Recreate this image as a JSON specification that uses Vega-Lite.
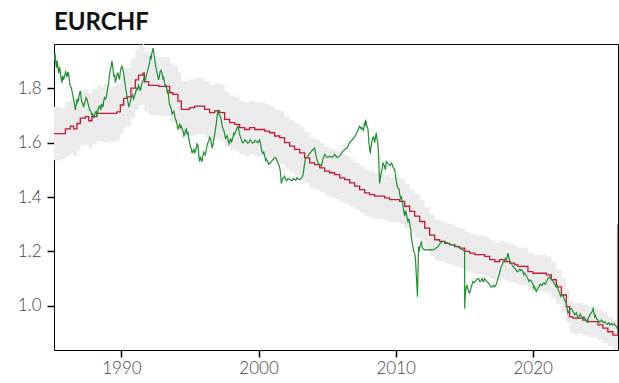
{
  "$schema": "https://vega.github.io/schema/vega-lite/v6.json",
  "width": 564,
  "height": 306,
  "autosize": {"type": "none"},
  "padding": {"left": 54, "top": 44, "right": 1, "bottom": 33},
  "title": {"text": "EURCHF", "anchor": "start", "frame": "group", "font": "Lato", "fontSize": 24, "fontWeight": "bold", "color": "#111111", "offset": 9},
  "config": {
    "view": {"stroke": "#000000", "strokeWidth": 1},
    "axis": {"labelFont": "Lato", "labelFontSize": 17, "labelFontWeight": 300, "labelColor": "#444444", "tickColor": "#000000", "tickSize": 7, "tickWidth": 1.5, "domain": false, "grid": false, "title": null}
  },
  "datasets": {
    "ppp": [
      {"t": 1985.08, "p": 1.633, "lo": 1.535, "hi": 1.731},
      {"t": 1985.64, "p": 1.633, "lo": 1.54, "hi": 1.725},
      {"t": 1985.91, "p": 1.65, "lo": 1.551, "hi": 1.749},
      {"t": 1986.27, "p": 1.66, "lo": 1.56, "hi": 1.76},
      {"t": 1986.51, "p": 1.65, "lo": 1.551, "hi": 1.749},
      {"t": 1986.75, "p": 1.67, "lo": 1.57, "hi": 1.77},
      {"t": 1987.0, "p": 1.69, "lo": 1.589, "hi": 1.791},
      {"t": 1987.37, "p": 1.695, "lo": 1.593, "hi": 1.797},
      {"t": 1987.61, "p": 1.68, "lo": 1.579, "hi": 1.781},
      {"t": 1987.85, "p": 1.695, "lo": 1.593, "hi": 1.797},
      {"t": 1988.21, "p": 1.707, "lo": 1.605, "hi": 1.809},
      {"t": 1988.7, "p": 1.707, "lo": 1.6, "hi": 1.815},
      {"t": 1989.19, "p": 1.707, "lo": 1.605, "hi": 1.809},
      {"t": 1989.67, "p": 1.713, "lo": 1.61, "hi": 1.816},
      {"t": 1989.92, "p": 1.738, "lo": 1.634, "hi": 1.842},
      {"t": 1990.16, "p": 1.762, "lo": 1.656, "hi": 1.868},
      {"t": 1990.4, "p": 1.768, "lo": 1.662, "hi": 1.874},
      {"t": 1990.69, "p": 1.8, "lo": 1.692, "hi": 1.908},
      {"t": 1991.01, "p": 1.83, "lo": 1.72, "hi": 1.94},
      {"t": 1991.25, "p": 1.848, "lo": 1.737, "hi": 1.959},
      {"t": 1991.57, "p": 1.855, "lo": 1.744, "hi": 1.962},
      {"t": 1991.67, "p": 1.824, "lo": 1.715, "hi": 1.933},
      {"t": 1991.98, "p": 1.81, "lo": 1.701, "hi": 1.919},
      {"t": 1992.35, "p": 1.81, "lo": 1.701, "hi": 1.919},
      {"t": 1992.71, "p": 1.806, "lo": 1.698, "hi": 1.914},
      {"t": 1993.08, "p": 1.806, "lo": 1.698, "hi": 1.914},
      {"t": 1993.52, "p": 1.783, "lo": 1.676, "hi": 1.89},
      {"t": 1993.76, "p": 1.777, "lo": 1.67, "hi": 1.884},
      {"t": 1994.12, "p": 1.752, "lo": 1.647, "hi": 1.857},
      {"t": 1994.37, "p": 1.722, "lo": 1.619, "hi": 1.825},
      {"t": 1994.61, "p": 1.722, "lo": 1.619, "hi": 1.825},
      {"t": 1994.97, "p": 1.728, "lo": 1.624, "hi": 1.832},
      {"t": 1995.34, "p": 1.734, "lo": 1.63, "hi": 1.838},
      {"t": 1995.7, "p": 1.734, "lo": 1.63, "hi": 1.838},
      {"t": 1996.07, "p": 1.722, "lo": 1.619, "hi": 1.825},
      {"t": 1996.43, "p": 1.71, "lo": 1.607, "hi": 1.813},
      {"t": 1996.8, "p": 1.716, "lo": 1.613, "hi": 1.819},
      {"t": 1997.16, "p": 1.71, "lo": 1.607, "hi": 1.813},
      {"t": 1997.53, "p": 1.685, "lo": 1.584, "hi": 1.786},
      {"t": 1997.89, "p": 1.673, "lo": 1.573, "hi": 1.773},
      {"t": 1998.26, "p": 1.667, "lo": 1.567, "hi": 1.767},
      {"t": 1998.62, "p": 1.655, "lo": 1.556, "hi": 1.754},
      {"t": 1998.99, "p": 1.648, "lo": 1.549, "hi": 1.747},
      {"t": 1999.35, "p": 1.655, "lo": 1.556, "hi": 1.754},
      {"t": 1999.72, "p": 1.648, "lo": 1.549, "hi": 1.747},
      {"t": 2000.08, "p": 1.648, "lo": 1.549, "hi": 1.747},
      {"t": 2000.45, "p": 1.642, "lo": 1.543, "hi": 1.741},
      {"t": 2000.81, "p": 1.636, "lo": 1.538, "hi": 1.734},
      {"t": 2001.17, "p": 1.624, "lo": 1.527, "hi": 1.721},
      {"t": 2001.54, "p": 1.618, "lo": 1.521, "hi": 1.715},
      {"t": 2001.9, "p": 1.6, "lo": 1.504, "hi": 1.696},
      {"t": 2002.27, "p": 1.587, "lo": 1.492, "hi": 1.682},
      {"t": 2002.63, "p": 1.575, "lo": 1.48, "hi": 1.67},
      {"t": 2003.0, "p": 1.562, "lo": 1.468, "hi": 1.656},
      {"t": 2003.36, "p": 1.544, "lo": 1.451, "hi": 1.637},
      {"t": 2003.73, "p": 1.525, "lo": 1.433, "hi": 1.617},
      {"t": 2004.09, "p": 1.519, "lo": 1.428, "hi": 1.61},
      {"t": 2004.46, "p": 1.507, "lo": 1.417, "hi": 1.597},
      {"t": 2004.82, "p": 1.495, "lo": 1.405, "hi": 1.585},
      {"t": 2005.19, "p": 1.489, "lo": 1.4, "hi": 1.578},
      {"t": 2005.55, "p": 1.482, "lo": 1.393, "hi": 1.571},
      {"t": 2005.92, "p": 1.47, "lo": 1.382, "hi": 1.558},
      {"t": 2006.28, "p": 1.464, "lo": 1.376, "hi": 1.552},
      {"t": 2006.65, "p": 1.452, "lo": 1.365, "hi": 1.539},
      {"t": 2007.01, "p": 1.44, "lo": 1.354, "hi": 1.526},
      {"t": 2007.37, "p": 1.427, "lo": 1.341, "hi": 1.513},
      {"t": 2007.74, "p": 1.415, "lo": 1.33, "hi": 1.5},
      {"t": 2008.1, "p": 1.409, "lo": 1.324, "hi": 1.494},
      {"t": 2008.47, "p": 1.403, "lo": 1.319, "hi": 1.487},
      {"t": 2008.83, "p": 1.403, "lo": 1.319, "hi": 1.487},
      {"t": 2009.2, "p": 1.397, "lo": 1.313, "hi": 1.481},
      {"t": 2009.56, "p": 1.39, "lo": 1.307, "hi": 1.473},
      {"t": 2009.93, "p": 1.39, "lo": 1.307, "hi": 1.473},
      {"t": 2010.29, "p": 1.384, "lo": 1.301, "hi": 1.467},
      {"t": 2010.66, "p": 1.366, "lo": 1.284, "hi": 1.448},
      {"t": 2011.02, "p": 1.347, "lo": 1.266, "hi": 1.428},
      {"t": 2011.39, "p": 1.33, "lo": 1.25, "hi": 1.41},
      {"t": 2011.75, "p": 1.31, "lo": 1.231, "hi": 1.389},
      {"t": 2012.12, "p": 1.286, "lo": 1.209, "hi": 1.363},
      {"t": 2012.48, "p": 1.26, "lo": 1.184, "hi": 1.336},
      {"t": 2012.85, "p": 1.243, "lo": 1.168, "hi": 1.318},
      {"t": 2013.21, "p": 1.237, "lo": 1.163, "hi": 1.311},
      {"t": 2013.58, "p": 1.23, "lo": 1.156, "hi": 1.304},
      {"t": 2013.94, "p": 1.225, "lo": 1.151, "hi": 1.299},
      {"t": 2014.31, "p": 1.218, "lo": 1.145, "hi": 1.291},
      {"t": 2014.67, "p": 1.212, "lo": 1.139, "hi": 1.285},
      {"t": 2015.04, "p": 1.2, "lo": 1.128, "hi": 1.272},
      {"t": 2015.4, "p": 1.194, "lo": 1.122, "hi": 1.266},
      {"t": 2015.77, "p": 1.188, "lo": 1.117, "hi": 1.259},
      {"t": 2016.13, "p": 1.188, "lo": 1.117, "hi": 1.259},
      {"t": 2016.5, "p": 1.182, "lo": 1.111, "hi": 1.253},
      {"t": 2016.86, "p": 1.17, "lo": 1.1, "hi": 1.24},
      {"t": 2017.23, "p": 1.163, "lo": 1.093, "hi": 1.233},
      {"t": 2017.59, "p": 1.17, "lo": 1.1, "hi": 1.24},
      {"t": 2017.96, "p": 1.163, "lo": 1.093, "hi": 1.233},
      {"t": 2018.32, "p": 1.157, "lo": 1.088, "hi": 1.226},
      {"t": 2018.69, "p": 1.151, "lo": 1.082, "hi": 1.22},
      {"t": 2018.92, "p": 1.145, "lo": 1.076, "hi": 1.214},
      {"t": 2019.41, "p": 1.145, "lo": 1.076, "hi": 1.214},
      {"t": 2019.65, "p": 1.126, "lo": 1.058, "hi": 1.194},
      {"t": 2020.01, "p": 1.12, "lo": 1.053, "hi": 1.187},
      {"t": 2020.38, "p": 1.12, "lo": 1.053, "hi": 1.187},
      {"t": 2020.74, "p": 1.12, "lo": 1.053, "hi": 1.187},
      {"t": 2020.99, "p": 1.114, "lo": 1.047, "hi": 1.181},
      {"t": 2021.36, "p": 1.096, "lo": 1.03, "hi": 1.162},
      {"t": 2021.72, "p": 1.07, "lo": 1.006, "hi": 1.134},
      {"t": 2022.09, "p": 1.04, "lo": 0.978, "hi": 1.102},
      {"t": 2022.45, "p": 0.997, "lo": 0.937, "hi": 1.057},
      {"t": 2022.69, "p": 0.96, "lo": 0.902, "hi": 1.018},
      {"t": 2022.93, "p": 0.955, "lo": 0.898, "hi": 1.012},
      {"t": 2023.3, "p": 0.955, "lo": 0.898, "hi": 1.012},
      {"t": 2023.66, "p": 0.948, "lo": 0.891, "hi": 1.005},
      {"t": 2024.03, "p": 0.942, "lo": 0.885, "hi": 0.999},
      {"t": 2024.39, "p": 0.942, "lo": 0.885, "hi": 0.999},
      {"t": 2024.76, "p": 0.93, "lo": 0.874, "hi": 0.986},
      {"t": 2025.12, "p": 0.918, "lo": 0.863, "hi": 0.973},
      {"t": 2025.48, "p": 0.905, "lo": 0.851, "hi": 0.959},
      {"t": 2025.85, "p": 0.893, "lo": 0.839, "hi": 0.947},
      {"t": 2026.17, "p": 0.893, "lo": 0.839, "hi": 0.947},
      {"t": 2026.22, "p": 1.3, "lo": 0.839, "hi": 0.947}
    ],
    "spot": [
      {"t": 1985.08, "v": 1.92}, {"t": 1985.15, "v": 1.93}, {"t": 1985.22, "v": 1.89}, {"t": 1985.3, "v": 1.9},
      {"t": 1985.42, "v": 1.855}, {"t": 1985.52, "v": 1.87}, {"t": 1985.66, "v": 1.82}, {"t": 1985.72, "v": 1.845},
      {"t": 1985.78, "v": 1.83}, {"t": 1985.93, "v": 1.86}, {"t": 1986.03, "v": 1.84}, {"t": 1986.15, "v": 1.85},
      {"t": 1986.25, "v": 1.81}, {"t": 1986.39, "v": 1.79}, {"t": 1986.5, "v": 1.76}, {"t": 1986.64, "v": 1.72},
      {"t": 1986.72, "v": 1.74}, {"t": 1986.81, "v": 1.75}, {"t": 1986.9, "v": 1.77}, {"t": 1987.0, "v": 1.79},
      {"t": 1987.1, "v": 1.75}, {"t": 1987.24, "v": 1.73}, {"t": 1987.35, "v": 1.75}, {"t": 1987.48, "v": 1.76},
      {"t": 1987.58, "v": 1.74}, {"t": 1987.68, "v": 1.72}, {"t": 1987.85, "v": 1.7}, {"t": 1987.97, "v": 1.69},
      {"t": 1988.1, "v": 1.71}, {"t": 1988.22, "v": 1.7}, {"t": 1988.34, "v": 1.73}, {"t": 1988.5, "v": 1.72},
      {"t": 1988.6, "v": 1.74}, {"t": 1988.7, "v": 1.75}, {"t": 1988.82, "v": 1.76}, {"t": 1988.94, "v": 1.78},
      {"t": 1989.07, "v": 1.82}, {"t": 1989.19, "v": 1.867}, {"t": 1989.31, "v": 1.9}, {"t": 1989.4, "v": 1.86},
      {"t": 1989.56, "v": 1.82}, {"t": 1989.68, "v": 1.85}, {"t": 1989.8, "v": 1.84}, {"t": 1989.92, "v": 1.86},
      {"t": 1990.04, "v": 1.88}, {"t": 1990.16, "v": 1.855}, {"t": 1990.28, "v": 1.81}, {"t": 1990.4, "v": 1.77},
      {"t": 1990.53, "v": 1.73}, {"t": 1990.65, "v": 1.75}, {"t": 1990.77, "v": 1.77}, {"t": 1990.88, "v": 1.76},
      {"t": 1991.01, "v": 1.78}, {"t": 1991.12, "v": 1.8}, {"t": 1991.25, "v": 1.81}, {"t": 1991.38, "v": 1.79},
      {"t": 1991.5, "v": 1.82}, {"t": 1991.65, "v": 1.84}, {"t": 1991.75, "v": 1.83}, {"t": 1991.86, "v": 1.855},
      {"t": 1992.0, "v": 1.88}, {"t": 1992.11, "v": 1.916}, {"t": 1992.22, "v": 1.93}, {"t": 1992.3, "v": 1.947},
      {"t": 1992.38, "v": 1.92}, {"t": 1992.47, "v": 1.89}, {"t": 1992.58, "v": 1.86}, {"t": 1992.71, "v": 1.83},
      {"t": 1992.82, "v": 1.86}, {"t": 1992.95, "v": 1.855}, {"t": 1993.08, "v": 1.84}, {"t": 1993.2, "v": 1.806},
      {"t": 1993.3, "v": 1.8}, {"t": 1993.39, "v": 1.795}, {"t": 1993.5, "v": 1.74}, {"t": 1993.64, "v": 1.72},
      {"t": 1993.76, "v": 1.71}, {"t": 1993.88, "v": 1.7}, {"t": 1994.0, "v": 1.68}, {"t": 1994.12, "v": 1.65},
      {"t": 1994.25, "v": 1.67}, {"t": 1994.37, "v": 1.66}, {"t": 1994.5, "v": 1.64}, {"t": 1994.61, "v": 1.63},
      {"t": 1994.73, "v": 1.65}, {"t": 1994.85, "v": 1.64}, {"t": 1994.97, "v": 1.6}, {"t": 1995.1, "v": 1.575},
      {"t": 1995.22, "v": 1.57}, {"t": 1995.34, "v": 1.56}, {"t": 1995.46, "v": 1.58}, {"t": 1995.58, "v": 1.59},
      {"t": 1995.65, "v": 1.55}, {"t": 1995.7, "v": 1.53}, {"t": 1995.82, "v": 1.54}, {"t": 1995.94, "v": 1.55},
      {"t": 1996.06, "v": 1.56}, {"t": 1996.19, "v": 1.575}, {"t": 1996.31, "v": 1.6}, {"t": 1996.43, "v": 1.62},
      {"t": 1996.55, "v": 1.6}, {"t": 1996.67, "v": 1.59}, {"t": 1996.8, "v": 1.63}, {"t": 1996.92, "v": 1.67},
      {"t": 1997.04, "v": 1.72}, {"t": 1997.16, "v": 1.7}, {"t": 1997.29, "v": 1.68}, {"t": 1997.41, "v": 1.65},
      {"t": 1997.53, "v": 1.63}, {"t": 1997.65, "v": 1.62}, {"t": 1997.77, "v": 1.61}, {"t": 1997.9, "v": 1.605},
      {"t": 1998.02, "v": 1.6}, {"t": 1998.14, "v": 1.62}, {"t": 1998.26, "v": 1.63}, {"t": 1998.38, "v": 1.645},
      {"t": 1998.5, "v": 1.66}, {"t": 1998.62, "v": 1.63}, {"t": 1998.75, "v": 1.61}, {"t": 1998.9, "v": 1.6},
      {"t": 1999.11, "v": 1.605}, {"t": 1999.3, "v": 1.6}, {"t": 1999.47, "v": 1.605}, {"t": 1999.65, "v": 1.6},
      {"t": 1999.84, "v": 1.605}, {"t": 1999.95, "v": 1.6}, {"t": 2000.08, "v": 1.61}, {"t": 2000.2, "v": 1.58},
      {"t": 2000.32, "v": 1.56}, {"t": 2000.45, "v": 1.55}, {"t": 2000.57, "v": 1.54}, {"t": 2000.75, "v": 1.52},
      {"t": 2000.93, "v": 1.53}, {"t": 2001.1, "v": 1.54}, {"t": 2001.3, "v": 1.54}, {"t": 2001.45, "v": 1.52},
      {"t": 2001.54, "v": 1.51}, {"t": 2001.66, "v": 1.45}, {"t": 2001.78, "v": 1.47}, {"t": 2001.9, "v": 1.476},
      {"t": 2002.05, "v": 1.46}, {"t": 2002.27, "v": 1.464}, {"t": 2002.45, "v": 1.46}, {"t": 2002.63, "v": 1.464},
      {"t": 2002.8, "v": 1.47}, {"t": 2003.0, "v": 1.464}, {"t": 2003.15, "v": 1.47}, {"t": 2003.24, "v": 1.48},
      {"t": 2003.35, "v": 1.52}, {"t": 2003.44, "v": 1.544}, {"t": 2003.6, "v": 1.55}, {"t": 2003.73, "v": 1.56},
      {"t": 2003.9, "v": 1.57}, {"t": 2004.09, "v": 1.58}, {"t": 2004.2, "v": 1.55}, {"t": 2004.33, "v": 1.525},
      {"t": 2004.45, "v": 1.52}, {"t": 2004.58, "v": 1.513}, {"t": 2004.7, "v": 1.54}, {"t": 2004.82, "v": 1.556},
      {"t": 2005.0, "v": 1.545}, {"t": 2005.19, "v": 1.55}, {"t": 2005.37, "v": 1.545}, {"t": 2005.55, "v": 1.556},
      {"t": 2005.74, "v": 1.545}, {"t": 2005.92, "v": 1.55}, {"t": 2006.1, "v": 1.565}, {"t": 2006.28, "v": 1.575},
      {"t": 2006.45, "v": 1.58}, {"t": 2006.65, "v": 1.6}, {"t": 2006.83, "v": 1.61}, {"t": 2007.01, "v": 1.62},
      {"t": 2007.2, "v": 1.64}, {"t": 2007.37, "v": 1.66}, {"t": 2007.5, "v": 1.65}, {"t": 2007.61, "v": 1.65},
      {"t": 2007.72, "v": 1.67}, {"t": 2007.81, "v": 1.68}, {"t": 2007.9, "v": 1.66}, {"t": 2007.98, "v": 1.65},
      {"t": 2008.05, "v": 1.6}, {"t": 2008.15, "v": 1.56}, {"t": 2008.25, "v": 1.6}, {"t": 2008.34, "v": 1.62},
      {"t": 2008.47, "v": 1.6}, {"t": 2008.59, "v": 1.636}, {"t": 2008.7, "v": 1.6}, {"t": 2008.83, "v": 1.45},
      {"t": 2008.95, "v": 1.49}, {"t": 2009.07, "v": 1.525}, {"t": 2009.2, "v": 1.51}, {"t": 2009.32, "v": 1.53},
      {"t": 2009.5, "v": 1.52}, {"t": 2009.69, "v": 1.525}, {"t": 2009.8, "v": 1.51}, {"t": 2009.93, "v": 1.5},
      {"t": 2010.05, "v": 1.46}, {"t": 2010.17, "v": 1.433}, {"t": 2010.3, "v": 1.41}, {"t": 2010.42, "v": 1.4},
      {"t": 2010.54, "v": 1.366}, {"t": 2010.66, "v": 1.33}, {"t": 2010.78, "v": 1.34}, {"t": 2010.9, "v": 1.31},
      {"t": 2011.02, "v": 1.305}, {"t": 2011.1, "v": 1.28}, {"t": 2011.15, "v": 1.25}, {"t": 2011.25, "v": 1.22},
      {"t": 2011.39, "v": 1.194}, {"t": 2011.5, "v": 1.12}, {"t": 2011.59, "v": 1.034}, {"t": 2011.64, "v": 1.15},
      {"t": 2011.68, "v": 1.218}, {"t": 2011.78, "v": 1.22}, {"t": 2011.88, "v": 1.237}, {"t": 2012.0, "v": 1.21},
      {"t": 2012.12, "v": 1.206}, {"t": 2012.36, "v": 1.206}, {"t": 2012.55, "v": 1.207}, {"t": 2012.72, "v": 1.206},
      {"t": 2012.9, "v": 1.21}, {"t": 2013.09, "v": 1.218}, {"t": 2013.25, "v": 1.23}, {"t": 2013.45, "v": 1.237},
      {"t": 2013.6, "v": 1.235}, {"t": 2013.81, "v": 1.23}, {"t": 2014.0, "v": 1.225}, {"t": 2014.18, "v": 1.225},
      {"t": 2014.35, "v": 1.22}, {"t": 2014.54, "v": 1.218}, {"t": 2014.72, "v": 1.21}, {"t": 2014.9, "v": 1.206},
      {"t": 2015.03, "v": 1.2}, {"t": 2015.04, "v": 0.99}, {"t": 2015.1, "v": 1.05}, {"t": 2015.15, "v": 1.07},
      {"t": 2015.28, "v": 1.06}, {"t": 2015.4, "v": 1.047}, {"t": 2015.52, "v": 1.07}, {"t": 2015.64, "v": 1.09},
      {"t": 2015.8, "v": 1.09}, {"t": 2016.0, "v": 1.1}, {"t": 2016.12, "v": 1.09}, {"t": 2016.25, "v": 1.096},
      {"t": 2016.37, "v": 1.09}, {"t": 2016.49, "v": 1.1}, {"t": 2016.65, "v": 1.09}, {"t": 2016.86, "v": 1.077},
      {"t": 2017.05, "v": 1.07}, {"t": 2017.23, "v": 1.07}, {"t": 2017.35, "v": 1.08}, {"t": 2017.46, "v": 1.1},
      {"t": 2017.58, "v": 1.12}, {"t": 2017.71, "v": 1.145}, {"t": 2017.83, "v": 1.16}, {"t": 2017.95, "v": 1.17},
      {"t": 2018.08, "v": 1.17}, {"t": 2018.19, "v": 1.194}, {"t": 2018.3, "v": 1.17}, {"t": 2018.44, "v": 1.157},
      {"t": 2018.56, "v": 1.145}, {"t": 2018.68, "v": 1.139}, {"t": 2018.8, "v": 1.13}, {"t": 2018.92, "v": 1.126},
      {"t": 2019.05, "v": 1.135}, {"t": 2019.17, "v": 1.133}, {"t": 2019.29, "v": 1.125}, {"t": 2019.41, "v": 1.12},
      {"t": 2019.53, "v": 1.11}, {"t": 2019.65, "v": 1.1}, {"t": 2019.78, "v": 1.095}, {"t": 2019.9, "v": 1.09},
      {"t": 2020.02, "v": 1.08}, {"t": 2020.14, "v": 1.07}, {"t": 2020.26, "v": 1.053}, {"t": 2020.38, "v": 1.065},
      {"t": 2020.51, "v": 1.077}, {"t": 2020.63, "v": 1.075}, {"t": 2020.75, "v": 1.083}, {"t": 2020.88, "v": 1.08},
      {"t": 2021.0, "v": 1.09}, {"t": 2021.12, "v": 1.1}, {"t": 2021.24, "v": 1.108}, {"t": 2021.36, "v": 1.1},
      {"t": 2021.48, "v": 1.09}, {"t": 2021.6, "v": 1.08}, {"t": 2021.72, "v": 1.07}, {"t": 2021.85, "v": 1.06},
      {"t": 2021.97, "v": 1.047}, {"t": 2022.09, "v": 1.04}, {"t": 2022.21, "v": 1.034}, {"t": 2022.33, "v": 1.02},
      {"t": 2022.46, "v": 1.01}, {"t": 2022.57, "v": 0.973}, {"t": 2022.7, "v": 0.985}, {"t": 2022.82, "v": 0.99},
      {"t": 2022.94, "v": 0.98}, {"t": 2023.06, "v": 0.967}, {"t": 2023.18, "v": 0.975}, {"t": 2023.3, "v": 0.955},
      {"t": 2023.42, "v": 0.965}, {"t": 2023.55, "v": 0.96}, {"t": 2023.67, "v": 0.955}, {"t": 2023.79, "v": 0.955},
      {"t": 2023.97, "v": 0.94}, {"t": 2024.16, "v": 0.967}, {"t": 2024.28, "v": 0.975}, {"t": 2024.4, "v": 0.99},
      {"t": 2024.46, "v": 0.975}, {"t": 2024.52, "v": 0.96}, {"t": 2024.64, "v": 0.955}, {"t": 2024.76, "v": 0.948},
      {"t": 2024.88, "v": 0.94}, {"t": 2025.01, "v": 0.948}, {"t": 2025.13, "v": 0.94}, {"t": 2025.25, "v": 0.942},
      {"t": 2025.37, "v": 0.935}, {"t": 2025.49, "v": 0.936}, {"t": 2025.61, "v": 0.93}, {"t": 2025.74, "v": 0.936},
      {"t": 2025.86, "v": 0.932}, {"t": 2025.98, "v": 0.93}, {"t": 2026.1, "v": 0.925}, {"t": 2026.2, "v": 0.912},
      {"t": 1985.11, "v": 1.9}, {"t": 1985.18, "v": 1.915}, {"t": 1985.26, "v": 1.875}, {"t": 1985.36, "v": 1.88},
      {"t": 1985.47, "v": 1.875}, {"t": 1985.58, "v": 1.84}, {"t": 1985.69, "v": 1.835}, {"t": 1985.85, "v": 1.845},
      {"t": 1985.98, "v": 1.85}, {"t": 1986.09, "v": 1.86}, {"t": 1986.2, "v": 1.83}, {"t": 1986.32, "v": 1.805},
      {"t": 1986.45, "v": 1.775}, {"t": 1986.57, "v": 1.745}, {"t": 1986.68, "v": 1.735}, {"t": 1986.76, "v": 1.76},
      {"t": 1986.86, "v": 1.755}, {"t": 1986.95, "v": 1.78}, {"t": 1987.05, "v": 1.77}, {"t": 1987.17, "v": 1.745},
      {"t": 1987.3, "v": 1.745}, {"t": 1987.42, "v": 1.765}, {"t": 1987.53, "v": 1.75}, {"t": 1987.63, "v": 1.73},
      {"t": 1987.77, "v": 1.715}, {"t": 1987.91, "v": 1.705}, {"t": 1988.03, "v": 1.7}, {"t": 1988.16, "v": 1.715},
      {"t": 1988.28, "v": 1.715}, {"t": 1988.42, "v": 1.735}, {"t": 1988.55, "v": 1.74}, {"t": 1988.65, "v": 1.73},
      {"t": 1988.76, "v": 1.765}, {"t": 1988.88, "v": 1.765}, {"t": 1989.0, "v": 1.8}, {"t": 1989.13, "v": 1.85},
      {"t": 1989.25, "v": 1.88}, {"t": 1989.35, "v": 1.885}, {"t": 1989.46, "v": 1.84}, {"t": 1989.5, "v": 1.85},
      {"t": 1989.62, "v": 1.835}, {"t": 1989.74, "v": 1.855}, {"t": 1989.86, "v": 1.835}, {"t": 1989.98, "v": 1.875},
      {"t": 1990.1, "v": 1.87}, {"t": 1990.22, "v": 1.83}, {"t": 1990.34, "v": 1.79}, {"t": 1990.47, "v": 1.75},
      {"t": 1990.59, "v": 1.74}, {"t": 1990.71, "v": 1.765}, {"t": 1990.82, "v": 1.775}, {"t": 1990.95, "v": 1.77},
      {"t": 1991.06, "v": 1.79}, {"t": 1991.18, "v": 1.795}, {"t": 1991.32, "v": 1.8}, {"t": 1991.44, "v": 1.805},
      {"t": 1991.57, "v": 1.825}, {"t": 1991.7, "v": 1.825}, {"t": 1991.8, "v": 1.845}, {"t": 1991.93, "v": 1.87},
      {"t": 1992.06, "v": 1.895}, {"t": 1992.17, "v": 1.91}, {"t": 1992.26, "v": 1.935}, {"t": 1992.34, "v": 1.935},
      {"t": 1992.43, "v": 1.905}, {"t": 1992.52, "v": 1.875}, {"t": 1992.65, "v": 1.845}, {"t": 1992.77, "v": 1.845},
      {"t": 1992.88, "v": 1.865}, {"t": 1993.02, "v": 1.835}, {"t": 1993.14, "v": 1.82}, {"t": 1993.25, "v": 1.81},
      {"t": 1993.35, "v": 1.78}, {"t": 1993.45, "v": 1.765}, {"t": 1993.57, "v": 1.735}, {"t": 1993.7, "v": 1.705},
      {"t": 1993.82, "v": 1.715}, {"t": 1993.94, "v": 1.685}, {"t": 1994.06, "v": 1.665}, {"t": 1994.18, "v": 1.655},
      {"t": 1994.31, "v": 1.655}, {"t": 1994.43, "v": 1.65}, {"t": 1994.56, "v": 1.625}, {"t": 1994.67, "v": 1.645},
      {"t": 1994.79, "v": 1.63}, {"t": 1994.91, "v": 1.615}, {"t": 1995.04, "v": 1.585}, {"t": 1995.16, "v": 1.56},
      {"t": 1995.28, "v": 1.575}, {"t": 1995.4, "v": 1.57}, {"t": 1995.52, "v": 1.595}, {"t": 1995.76, "v": 1.545},
      {"t": 1995.88, "v": 1.53}, {"t": 1996.0, "v": 1.565}, {"t": 1996.12, "v": 1.555}, {"t": 1996.25, "v": 1.59},
      {"t": 1996.37, "v": 1.605}, {"t": 1996.49, "v": 1.615}, {"t": 1996.61, "v": 1.58}, {"t": 1996.73, "v": 1.61},
      {"t": 1996.86, "v": 1.65}, {"t": 1996.98, "v": 1.7}, {"t": 1997.1, "v": 1.705}, {"t": 1997.22, "v": 1.695},
      {"t": 1997.35, "v": 1.66}, {"t": 1997.47, "v": 1.645}, {"t": 1997.59, "v": 1.615}, {"t": 1997.71, "v": 1.625},
      {"t": 1997.84, "v": 1.595}, {"t": 1997.96, "v": 1.615}, {"t": 1998.08, "v": 1.61}, {"t": 1998.2, "v": 1.635},
      {"t": 1998.32, "v": 1.64}, {"t": 1998.44, "v": 1.655}, {"t": 1998.56, "v": 1.645}, {"t": 1998.69, "v": 1.62},
      {"t": 1998.82, "v": 1.6}, {"t": 1999.0, "v": 1.61}, {"t": 1999.2, "v": 1.598}, {"t": 1999.38, "v": 1.61},
      {"t": 1999.56, "v": 1.598}, {"t": 1999.75, "v": 1.608},
      {"t": 2000.14, "v": 1.595}, {"t": 2000.26, "v": 1.565}, {"t": 2000.38, "v": 1.565}, {"t": 2000.51, "v": 1.535},
      {"t": 2000.66, "v": 1.53}, {"t": 2000.84, "v": 1.525}, {"t": 2001.02, "v": 1.535}, {"t": 2001.2, "v": 1.545},
      {"t": 2001.38, "v": 1.53}, {"t": 2001.6, "v": 1.49}, {"t": 2001.72, "v": 1.46}, {"t": 2001.84, "v": 1.47},
      {"t": 2001.97, "v": 1.465}, {"t": 2002.15, "v": 1.468}, {"t": 2002.36, "v": 1.462}, {"t": 2002.54, "v": 1.468},
      {"t": 2002.72, "v": 1.462}, {"t": 2002.9, "v": 1.466},
      {"t": 2007.55, "v": 1.655}, {"t": 2007.66, "v": 1.645}, {"t": 2007.77, "v": 1.665}, {"t": 2007.86, "v": 1.675},
      {"t": 2007.94, "v": 1.655}, {"t": 2008.1, "v": 1.58}, {"t": 2008.2, "v": 1.58}, {"t": 2008.3, "v": 1.61},
      {"t": 2008.4, "v": 1.62}, {"t": 2008.53, "v": 1.62}, {"t": 2008.65, "v": 1.61}, {"t": 2008.76, "v": 1.55},
      {"t": 2008.89, "v": 1.47}, {"t": 2009.01, "v": 1.5}, {"t": 2009.13, "v": 1.52}, {"t": 2009.26, "v": 1.5},
      {"t": 2009.4, "v": 1.525}, {"t": 2009.6, "v": 1.515}, {"t": 2009.75, "v": 1.52}, {"t": 2009.87, "v": 1.505},
      {"t": 2009.99, "v": 1.48}, {"t": 2010.11, "v": 1.44}, {"t": 2010.24, "v": 1.43}, {"t": 2010.36, "v": 1.395},
      {"t": 2010.48, "v": 1.385}, {"t": 2010.6, "v": 1.345}, {"t": 2010.72, "v": 1.35}, {"t": 2010.84, "v": 1.32},
      {"t": 2010.96, "v": 1.32}, {"t": 2011.06, "v": 1.29}, {"t": 2011.2, "v": 1.235}, {"t": 2011.32, "v": 1.2},
      {"t": 2011.45, "v": 1.17}, {"t": 2011.55, "v": 1.08}, {"t": 2011.72, "v": 1.2}, {"t": 2011.83, "v": 1.225},
      {"t": 2011.94, "v": 1.215},
      {"t": 2015.07, "v": 1.03}, {"t": 2015.2, "v": 1.075}, {"t": 2015.34, "v": 1.05}, {"t": 2015.46, "v": 1.06},
      {"t": 2015.58, "v": 1.08}, {"t": 2015.72, "v": 1.085}, {"t": 2015.9, "v": 1.095}, {"t": 2016.06, "v": 1.1},
      {"t": 2016.19, "v": 1.09}, {"t": 2016.31, "v": 1.1}, {"t": 2016.43, "v": 1.09}, {"t": 2016.57, "v": 1.095},
      {"t": 2016.75, "v": 1.085}, {"t": 2016.95, "v": 1.07}, {"t": 2017.14, "v": 1.075}, {"t": 2017.29, "v": 1.075},
      {"t": 2017.41, "v": 1.09}, {"t": 2017.52, "v": 1.11}, {"t": 2017.65, "v": 1.135}, {"t": 2017.77, "v": 1.15},
      {"t": 2017.89, "v": 1.165}, {"t": 2018.02, "v": 1.175}, {"t": 2018.14, "v": 1.18}, {"t": 2018.25, "v": 1.18},
      {"t": 2018.37, "v": 1.16}, {"t": 2018.5, "v": 1.15}, {"t": 2018.62, "v": 1.14}, {"t": 2018.74, "v": 1.135},
      {"t": 2018.86, "v": 1.125}, {"t": 2018.98, "v": 1.13}, {"t": 2019.11, "v": 1.13}, {"t": 2019.23, "v": 1.13},
      {"t": 2019.35, "v": 1.115}, {"t": 2019.47, "v": 1.115}, {"t": 2019.59, "v": 1.105}, {"t": 2019.72, "v": 1.09},
      {"t": 2019.84, "v": 1.095}, {"t": 2019.96, "v": 1.085}, {"t": 2020.08, "v": 1.065}, {"t": 2020.2, "v": 1.06},
      {"t": 2020.32, "v": 1.06}, {"t": 2020.45, "v": 1.07}, {"t": 2020.57, "v": 1.08}, {"t": 2020.69, "v": 1.075},
      {"t": 2020.82, "v": 1.085}, {"t": 2020.94, "v": 1.08}, {"t": 2021.06, "v": 1.095}, {"t": 2021.18, "v": 1.105},
      {"t": 2021.3, "v": 1.1}, {"t": 2021.42, "v": 1.095}, {"t": 2021.54, "v": 1.085}, {"t": 2021.66, "v": 1.075},
      {"t": 2021.79, "v": 1.075}, {"t": 2021.91, "v": 1.055}, {"t": 2022.03, "v": 1.035}, {"t": 2022.15, "v": 1.04},
      {"t": 2022.27, "v": 1.03}, {"t": 2022.39, "v": 1.015}, {"t": 2022.52, "v": 0.985}, {"t": 2022.63, "v": 0.98},
      {"t": 2022.76, "v": 0.99}, {"t": 2022.88, "v": 0.985}, {"t": 2023.0, "v": 0.975}, {"t": 2023.12, "v": 0.97},
      {"t": 2023.24, "v": 0.965}, {"t": 2023.36, "v": 0.96}, {"t": 2023.48, "v": 0.97}, {"t": 2023.61, "v": 0.958},
      {"t": 2023.73, "v": 0.96}, {"t": 2023.88, "v": 0.945}, {"t": 2024.06, "v": 0.955}, {"t": 2024.22, "v": 0.97},
      {"t": 2024.34, "v": 0.98}, {"t": 2024.43, "v": 0.985}, {"t": 2024.58, "v": 0.965}, {"t": 2024.7, "v": 0.95},
      {"t": 2024.82, "v": 0.945}, {"t": 2024.95, "v": 0.942}, {"t": 2025.07, "v": 0.945}, {"t": 2025.19, "v": 0.938},
      {"t": 2025.31, "v": 0.94}, {"t": 2025.43, "v": 0.932}, {"t": 2025.55, "v": 0.938}, {"t": 2025.68, "v": 0.932},
      {"t": 2025.8, "v": 0.93}, {"t": 2025.92, "v": 0.935}, {"t": 2026.04, "v": 0.928}, {"t": 2026.15, "v": 0.92}
    ]
  },
  "encoding": {
    "x": {"field": "t", "type": "quantitative", "scale": {"domain": [1985.08, 2026.22], "nice": false, "zero": false}, "axis": {"values": [1990, 2000, 2010, 2020], "format": "d", "labelPadding": 3}}
  },
  "layer": [
    {
      "data": {"name": "ppp"},
      "mark": {"type": "area", "interpolate": "step-after", "color": "#ebebeb", "clip": true},
      "encoding": {
        "y": {"field": "lo", "type": "quantitative", "scale": {"domain": [0.838, 1.962], "nice": false, "zero": false}, "axis": {"values": [1.0, 1.2, 1.4, 1.6, 1.8], "format": ".1f", "labelPadding": 6}},
        "y2": {"field": "hi"}
      }
    },
    {
      "data": {"name": "ppp"},
      "mark": {"type": "line", "interpolate": "step-after", "color": "#c01a38", "strokeWidth": 1.3, "clip": true},
      "encoding": {"y": {"field": "p", "type": "quantitative"}}
    },
    {
      "data": {"name": "spot"},
      "mark": {"type": "line", "color": "#1d8f30", "strokeWidth": 1.2, "clip": true},
      "encoding": {"y": {"field": "v", "type": "quantitative"}}
    }
  ]
}
